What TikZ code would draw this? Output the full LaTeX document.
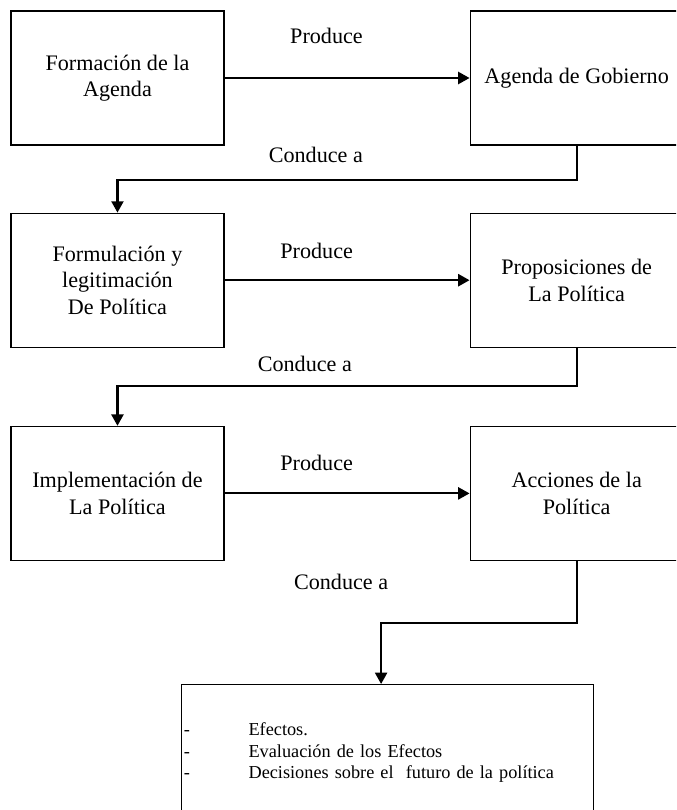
\documentclass[tikz,border=0pt]{standalone}
\usepackage{fontspec}
\setmainfont{Liberation Serif}
\usetikzlibrary{arrows.meta, positioning, calc}
\newcommand{\guion}{\makebox[48.6pt][l]{-}}

\begin{document}
\begin{tikzpicture}[
  box/.style={rectangle, draw, line width=0.9pt, minimum width=159.75pt, minimum height=100.5pt, inner sep=2pt, align=center, font=\fontsize{16.6}{19.9}\selectfont},
  effbox/.style={rectangle, draw, line width=0.8pt, minimum width=309pt, minimum height=102pt, inner xsep=2pt, text width=305pt, align=left, font=\fontsize{13.7}{16.1}\selectfont},
  arrow/.style={->, >={Triangle[length=8.5pt, width=9pt]}, line width=1.6pt},
  lbl/.style={inner sep=0pt, font=\fontsize{16.6}{19.9}\selectfont}
]
\clip (0,0) rectangle (507pt,-607.5pt);
\node[box] (agenda) at (88.1pt,-58.5pt) {Formación de la\\Agenda};
\node[box, right=183.75pt of agenda] (gob) {Agenda de Gobierno};
\node[box, below=50.25pt of agenda] (formul) {Formulación y\\legitimación\\De Política};
\node[box, right=183.75pt of formul] (prop) {Proposiciones de\\La Política};
\node[box, below=58.5pt of formul] (impl) {Implementación de\\La Política};
\node[box, right=183.75pt of impl] (acc) {Acciones de la\\Política};
\node[effbox, anchor=north west] (efec) at ([xshift=-33pt, yshift=-92.25pt]impl.south east)
  {\guion Efectos.\\\guion Evaluación de los Efectos\\\guion Decisiones sobre el\ \ futuro de la política};
\draw[arrow] (agenda) -- node[lbl, pos=0.416, above=25pt] {Produce} (gob);
\draw[arrow] (formul) -- node[lbl, pos=0.376, above=15.4pt] {Produce} (prop);
\draw[arrow] (impl) -- node[lbl, pos=0.376, above=16.1pt] {Produce} (acc);
\draw[arrow] (gob.south) -- ++(0,-25.5pt) -| node[lbl, pos=0.284, above=11.6pt] {Conduce a} (formul.north);
\draw[arrow] (prop.south) -- ++(0,-28.5pt) -| node[lbl, pos=0.296, above=9.4pt] {Conduce a} (impl.north);
\draw[arrow] (acc.south) -- ++(0,-46.5pt) -| node[lbl, pos=0.5, above=24.4pt, xshift=-30pt] {Conduce a} ([xshift=-4.5pt]efec.north);
\end{tikzpicture}
\end{document}
